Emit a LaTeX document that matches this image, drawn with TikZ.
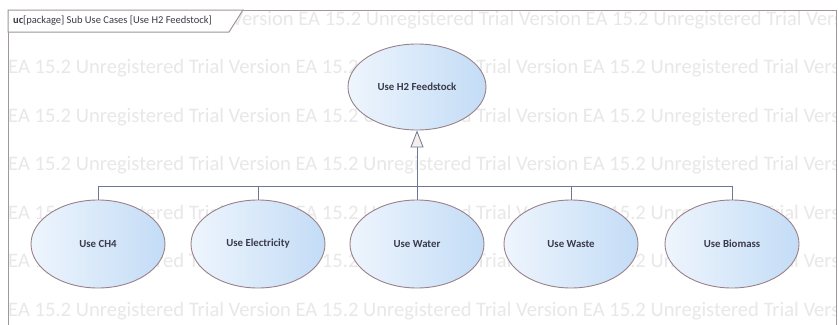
\documentclass[tikz,border=0pt]{standalone}
\usepackage{fontspec}
\setmainfont{Carlito}
\usetikzlibrary{shapes.geometric,arrows.meta}
\definecolor{framec}{HTML}{A0969B}
\definecolor{edgec}{HTML}{9A8088}
\definecolor{fillL}{HTML}{EEF5FD}
\definecolor{fillR}{HTML}{C3DCF6}
\definecolor{textc}{HTML}{3A3A4A}
\definecolor{connc}{HTML}{6E7890}
\definecolor{headc}{HTML}{F6EEEE}
\definecolor{wmc}{HTML}{E8E8E8}
\tikzset{
  usecase/.style={ellipse, draw=edgec, line width=0.9pt, left color=fillL, right color=fillR,
    inner sep=0pt, minimum width=134pt, minimum height=88pt,
    font=\fontsize{10.8}{12}\selectfont\bfseries, text=textc},
  conn/.style={draw=connc, line width=0.8pt},
  wm/.style={anchor=west, inner sep=0pt, text=wmc, font=\fontsize{20.6}{24}\selectfont},
  framebox/.style={draw=framec, line width=1pt}
}
\newcommand{\wmline}{EA 15.2 Unregistered Trial Version EA 15.2 Unregistered Trial Version EA 15.2 Unregistered Trial Vers}
\begin{document}
\begin{tikzpicture}[x=1pt,y=-1pt]
\useasboundingbox (0,0) rectangle (838,324);
\fill[white] (0,0) rectangle (838,324);

% evaluation watermark rows, kept inside the frame
\begin{scope}
  \clip (8,10) rectangle (836,324);
  \node[wm] (wm1) at (231.3,20) {Version EA 15.2 Unregistered Trial Version EA 15.2 Unregistered Trial Vers};
  \foreach \yy [count=\i from 2] in {68.5,117,165.5,214,262.5,311}
    \node[wm] (wm\i) at (8,\yy) {\wmline};
\end{scope}

% diagram frame and its name tab
\draw[framebox] (8,330) -- (8,10) -- (836,10) -- (836,330);
\draw[framebox, fill=white] (8,10) -- (243,10) -- (229,32) -- (8,32) -- cycle;
\node[anchor=west, inner sep=0pt, text=textc, font=\fontsize{10.5}{12}\selectfont]
  (title) at (13,21) {\textbf{uc}[package] Sub Use Cases [Use H2 Feedstock]};

% use cases
\node[usecase, minimum width=138pt, minimum height=86pt] (h2) at (417,87) {Use H2 Feedstock};
\node[usecase] (ch4)     at (98,244)  {Use CH4};
\node[usecase] (elec)    at (258,244) {Use Electricity};
\node[usecase] (water)   at (417,244) {Use Water};
\node[usecase] (waste)   at (571,244) {Use Waste};
\node[usecase] (biomass) at (732,244) {Use Biomass};

% generalization tree
\coordinate (bar) at (417,186);
\draw[conn] (ch4.north) |- (bar);
\draw[conn] (biomass.north) |- (bar);
\draw[conn] (elec.north) -- (elec.north |- bar);
\draw[conn] (waste.north) -- (waste.north |- bar);
\draw[conn, -{Triangle[length=17pt, width=13pt, fill=headc]}] (water.north) -- (h2.south);
\end{tikzpicture}
\end{document}
